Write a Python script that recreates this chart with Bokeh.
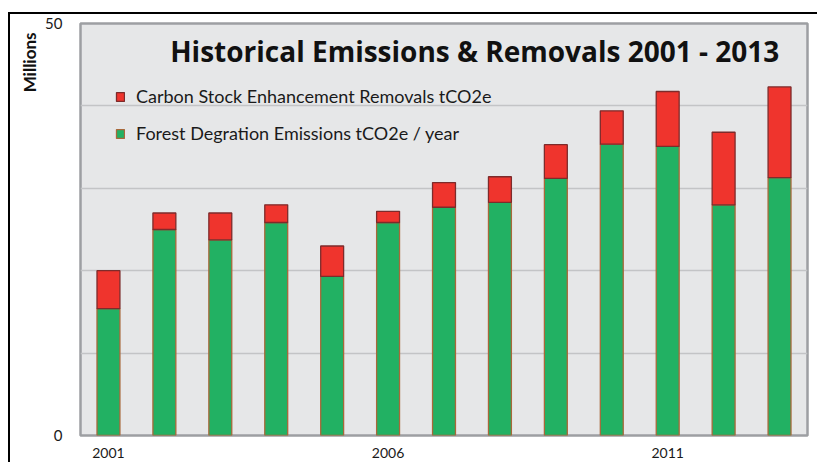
from bokeh.plotting import figure
from bokeh.models import (Range1d, FixedTicker, Legend, LegendItem, Label, Title,
                          ColumnDataSource)
from bokeh.embed import file_html
from bokeh.resources import INLINE

years = [2001, 2002, 2003, 2004, 2005, 2006, 2007, 2008, 2009, 2010, 2011, 2012, 2013]
emissions = [15.4, 25.0, 23.75, 25.85, 19.3, 25.85, 27.7, 28.3, 31.2, 35.35, 35.1, 28.0, 31.3]
removals = [4.6, 2.0, 3.25, 2.15, 3.7, 1.35, 3.0, 3.1, 4.1, 4.05, 6.65, 8.8, 11.0]
series = ["emissions", "removals"]
series_labels = ["Forest Degration Emissions tCO2e / year",
                 "Carbon Stock Enhancement Removals tCO2e"]
x_ticks = [2001, 2006, 2011]
y_ticks = [0, 50]
grid_ticks = [10, 20, 30, 40]
title_text = "Historical Emissions & Removals 2001 - 2013"
y_title = "Millions"

src = ColumnDataSource(dict(years=years, emissions=emissions, removals=removals))

FONT = "Lato"

p = figure(width=809, height=450, x_range=Range1d(2000.5, 2013.5), y_range=Range1d(0, 50),
           output_backend="svg", toolbar_location=None, title=None,
           min_border_left=70, min_border_right=12, min_border_top=9, min_border_bottom=29,
           background_fill_color="#e6e7e8", border_fill_color="white",
           outline_line_color="#9d9fa2", outline_line_width=2.5)
p.margin = (12, 0, 0, 8)
p.styles = {"border-top": "2px solid black", "border-left": "2px solid black"}

rs = p.vbar_stack(series, x="years", width=0.41, source=src,
                  fill_color=["#22b163", "#ef342d"],
                  line_color=["#a8683a", "#7d2b2b"], line_width=1.3)

p.xaxis.ticker = FixedTicker(ticks=x_ticks)
p.yaxis.ticker = FixedTicker(ticks=y_ticks)
p.xgrid.grid_line_color = None
p.ygrid.ticker = FixedTicker(ticks=grid_ticks)
p.ygrid.grid_line_color = "#c3c4c6"
p.ygrid.grid_line_width = 1.6
for ax in (p.xaxis[0], p.yaxis[0]):
    ax.axis_line_color = None
    ax.major_tick_line_color = None
    ax.minor_tick_line_color = None
    ax.major_tick_out = 0
    ax.major_tick_in = 0
    ax.major_label_text_font = FONT
    ax.major_label_text_color = "#1a1a1a"
p.xaxis.major_label_text_font_size = "14px"
p.yaxis.major_label_text_font_size = "15px"
p.xaxis.major_label_standoff = 12
p.yaxis.major_label_standoff = 18

legend = Legend(items=[LegendItem(label=series_labels[1], renderers=[rs[1]]),
                       LegendItem(label=series_labels[0], renderers=[rs[0]])],
                location=(35, 290), orientation="vertical",
                background_fill_alpha=0, border_line_color=None,
                label_text_font=FONT, label_text_font_size="18px", label_text_color="#1a1a1a",
                glyph_width=10, glyph_height=11, label_height=24, spacing=13,
                label_standoff=11, padding=0, margin=0)
p.add_layout(legend)

p.add_layout(Label(x=2007.55, y=46.7, text=title_text, text_font="Open Sans",
                   text_font_style="bold", text_font_size="28px", text_align="center",
                   text_baseline="middle", text_color="#111111"))

p.add_layout(Title(text=y_title, align="right", text_font=FONT, text_font_style="bold",
                   text_font_size="17px", text_color="#111111", standoff=6, offset=9), "left")

open("out.html", "w").write(file_html(p, INLINE))
